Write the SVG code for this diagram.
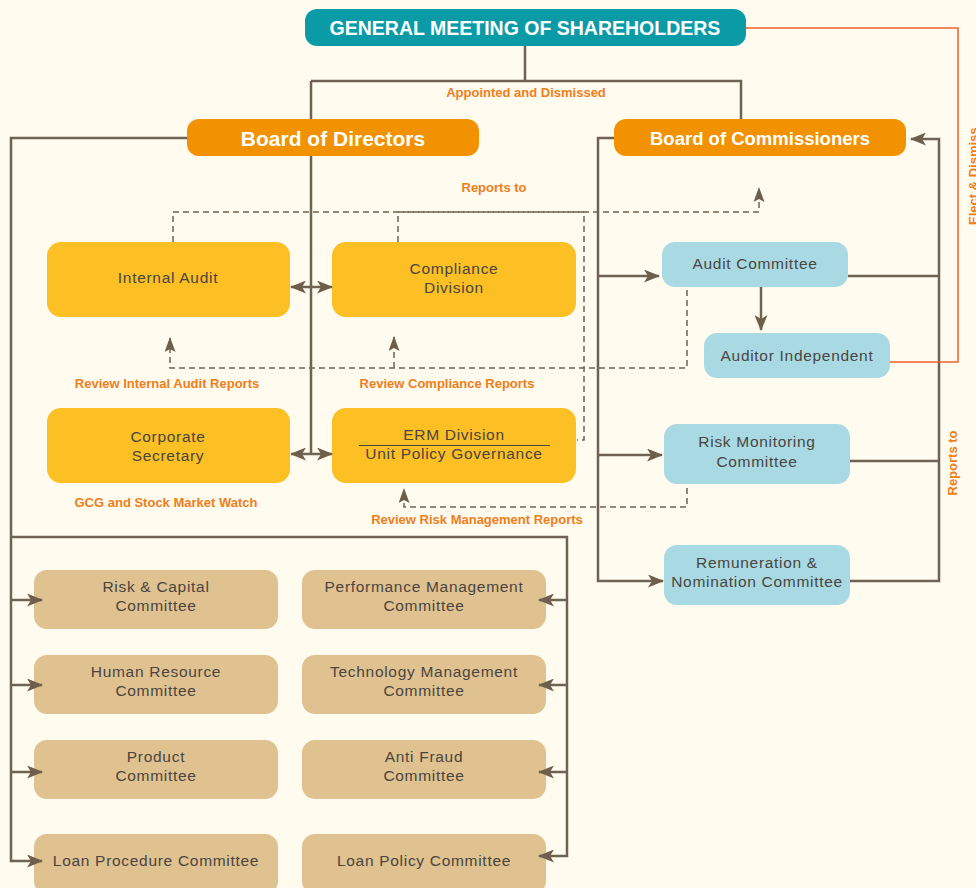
<svg xmlns="http://www.w3.org/2000/svg" width="976" height="888" viewBox="0 0 976 888">
<style>
.bg{fill:#FFFBEE}
.teal{fill:#0B9BA6}
.org{fill:#F29200}
.yel{fill:#FCBF24}
.blu{fill:#A9DAE3}
.tan{fill:#E0C190}
.ttl{font-family:"Liberation Sans",Arial,sans-serif;font-weight:bold;fill:#FFFFFF;text-anchor:middle}
.lbl{font-family:"Liberation Sans",Arial,sans-serif;font-size:15.5px;letter-spacing:0.7px;fill:#4A4540;text-anchor:middle}
.note{font-family:"Liberation Sans",Arial,sans-serif;font-weight:bold;font-size:13px;fill:#F07E1B;text-anchor:middle}
.ln{fill:none;stroke:#6E6352;stroke-width:2.5}
.dash{fill:none;stroke:#6E6352;stroke-width:1.5;stroke-dasharray:6 4}
.red{fill:none;stroke:#F0602A;stroke-width:1.5}
</style>
<defs>
<marker id="ah" viewBox="0 0 16 13" refX="15" refY="6.5" markerWidth="16" markerHeight="13" markerUnits="userSpaceOnUse" orient="auto-start-reverse">
<path d="M0,0 L16,6.5 L0,13 L4,6.5 z" fill="#6E5E4C"/>
</marker>
<marker id="dh" viewBox="0 0 11 15" refX="5.5" refY="1" markerWidth="11" markerHeight="15" markerUnits="userSpaceOnUse" orient="0">
<path d="M5.5,0 L11,15 L5.5,12 L0,15 z" fill="#6E5E4C"/>
</marker>
</defs>
<rect class="bg" x="0" y="0" width="976" height="888"/>

<g id="gms"><rect class="teal" x="305" y="9" width="441" height="37" rx="12"/><text class="ttl" x="525" y="35" font-size="19.5">GENERAL MEETING OF SHAREHOLDERS</text></g>
<g id="bod"><rect class="org" x="187" y="119" width="292" height="37" rx="12"/><text class="ttl" x="333" y="146" font-size="21">Board of Directors</text></g>
<g id="boc"><rect class="org" x="614" y="119" width="292" height="37" rx="12"/><text class="ttl" x="760" y="145" font-size="18.5">Board of Commissioners</text></g>

<g id="internal-audit"><rect class="yel" x="47" y="242" width="243" height="75" rx="14"/><text class="lbl" x="168" y="283">Internal Audit</text></g>
<g id="compliance"><rect class="yel" x="332" y="242" width="244" height="75" rx="14"/><text class="lbl" x="454" y="274">Compliance</text><text class="lbl" x="454" y="293">Division</text></g>
<g id="corp-sec"><rect class="yel" x="47" y="408" width="243" height="75" rx="14"/><text class="lbl" x="168" y="442">Corporate</text><text class="lbl" x="168" y="461">Secretary</text></g>
<g id="erm"><rect class="yel" x="332" y="408" width="244" height="75" rx="14"/><text class="lbl" x="454" y="440">ERM Division</text><line x1="359" y1="445.5" x2="550" y2="445.5" stroke="#4A4540" stroke-width="1"/><text class="lbl" x="454" y="459">Unit Policy Governance</text></g>

<g id="audit-committee"><rect class="blu" x="662" y="242" width="186" height="45" rx="13"/><text class="lbl" x="755" y="269">Audit Committee</text></g>
<g id="auditor-independent"><rect class="blu" x="704" y="333" width="186" height="45" rx="13"/><text class="lbl" x="797" y="361">Auditor Independent</text></g>
<g id="risk-monitoring"><rect class="blu" x="664" y="424" width="186" height="60" rx="13"/><text class="lbl" x="757" y="447">Risk Monitoring</text><text class="lbl" x="757" y="467">Committee</text></g>
<g id="remuneration"><rect class="blu" x="664" y="545" width="186" height="60" rx="13"/><text class="lbl" x="757" y="568">Remuneration &amp;</text><text class="lbl" x="757" y="587">Nomination Committee</text></g>

<g id="risk-capital"><rect class="tan" x="34" y="570" width="244" height="59" rx="13"/><text class="lbl" x="156" y="592">Risk &amp; Capital</text><text class="lbl" x="156" y="611">Committee</text></g>
<g id="human-resource"><rect class="tan" x="34" y="655" width="244" height="59" rx="13"/><text class="lbl" x="156" y="677">Human Resource</text><text class="lbl" x="156" y="696">Committee</text></g>
<g id="product"><rect class="tan" x="34" y="740" width="244" height="59" rx="13"/><text class="lbl" x="156" y="762">Product</text><text class="lbl" x="156" y="781">Committee</text></g>
<g id="loan-procedure"><rect class="tan" x="34" y="834" width="244" height="60" rx="13"/><text class="lbl" x="156" y="866">Loan Procedure Committee</text></g>
<g id="performance"><rect class="tan" x="302" y="570" width="244" height="59" rx="13"/><text class="lbl" x="424" y="592">Performance Management</text><text class="lbl" x="424" y="611">Committee</text></g>
<g id="technology"><rect class="tan" x="302" y="655" width="244" height="59" rx="13"/><text class="lbl" x="424" y="677">Technology Management</text><text class="lbl" x="424" y="696">Committee</text></g>
<g id="anti-fraud"><rect class="tan" x="302" y="740" width="244" height="59" rx="13"/><text class="lbl" x="424" y="762">Anti Fraud</text><text class="lbl" x="424" y="781">Committee</text></g>
<g id="loan-policy"><rect class="tan" x="302" y="834" width="244" height="60" rx="13"/><text class="lbl" x="424" y="866">Loan Policy Committee</text></g>

<g id="connectors">
<path class="ln" d="M525,46 V81 M311,81 H741 V119 M311,81 V119 M311,156 V454"/>
<path class="ln" d="M291,287 H332" marker-start="url(#ah)" marker-end="url(#ah)"/>
<path class="ln" d="M291,454 H332" marker-start="url(#ah)" marker-end="url(#ah)"/>
<path class="ln" d="M187,138 H11 V861 H42" marker-end="url(#ah)"/>
<path class="ln" d="M11,600 H42" marker-end="url(#ah)"/>
<path class="ln" d="M11,685 H42" marker-end="url(#ah)"/>
<path class="ln" d="M11,772 H42" marker-end="url(#ah)"/>
<path class="ln" d="M11,537 H567 V856 H539" marker-end="url(#ah)"/>
<path class="ln" d="M567,600 H539" marker-end="url(#ah)"/>
<path class="ln" d="M567,685 H539" marker-end="url(#ah)"/>
<path class="ln" d="M567,772 H539" marker-end="url(#ah)"/>
<path class="ln" d="M614,138 H598 V581 H663" marker-end="url(#ah)"/>
<path class="ln" d="M598,276 H659" marker-end="url(#ah)"/>
<path class="ln" d="M598,455 H662" marker-end="url(#ah)"/>
<path class="ln" d="M761,287 V330" marker-end="url(#ah)"/>
<path class="ln" d="M848,276 H940 M850,461 H940 M850,581 H939 V139 H911" marker-end="url(#ah)"/>
<path class="red" d="M890,362 H958 V28 H746"/>
<path class="dash" d="M173,242 V212 H759 V188" marker-end="url(#dh)"/>
<path class="dash" d="M398,242 V212 H584 V440 H577"/>
<path class="dash" d="M687,290 V368 H170 V338" marker-end="url(#dh)"/>
<path class="dash" d="M394,368 V337" marker-end="url(#dh)"/>
<path class="dash" d="M687,488 V507 H404 V489" marker-end="url(#dh)"/>
</g>

<g id="labels">
<text class="note" x="526" y="97">Appointed and Dismissed</text>
<text class="note" x="494" y="192">Reports to</text>
<text class="note" x="167" y="388">Review Internal Audit Reports</text>
<text class="note" x="447" y="388">Review Compliance Reports</text>
<text class="note" x="166" y="507">GCG and Stock Market Watch</text>
<text class="note" x="477" y="524">Review Risk Management Reports</text>
<text class="note" transform="translate(957,463) rotate(-90)">Reports to</text>
<text class="note" style="text-anchor:start" transform="translate(978,225) rotate(-90)">Elect &amp; Dismiss</text>
</g>
</svg>
